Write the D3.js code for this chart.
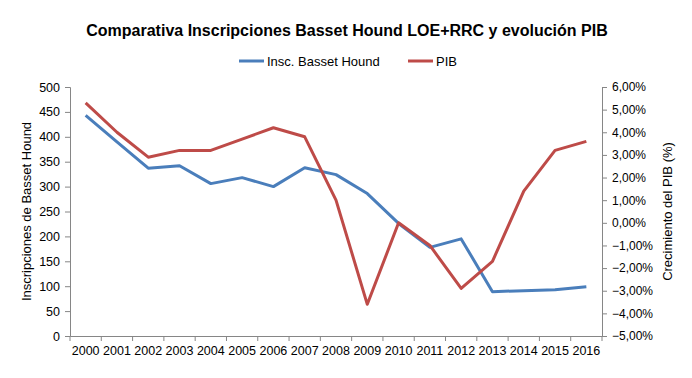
<!DOCTYPE html>
<html>
<head>
<meta charset="utf-8">
<script src="https://cdn.jsdelivr.net/npm/d3@7"></script>
<style>
  body { margin: 0; background: #fff; }
  text { font-family: "Liberation Sans", Arial, sans-serif; fill: #000; }
  .axis path, .axis line { stroke: #868686; }
</style>
</head>
<body>
<svg id="chart"></svg>
<script>
// data
const years = ['2000','2001','2002','2003','2004','2005','2006','2007','2008',
  '2009','2010','2011','2012','2013','2014','2015','2016']
const inscripciones = [443, 390, 337, 342, 306, 318, 300, 338, 324, 286, 226, 178, 195, 89, 91, 93, 99]
const pib = [5.3, 4.0, 2.9, 3.2, 3.2, 3.7, 4.2, 3.8, 1.0, -3.6, 0.0, -1.0, -2.9, -1.7, 1.4, 3.2, 3.6]
const leftTicks = [0, 50, 100, 150, 200, 250, 300, 350, 400, 450, 500]
const rightTicks = [-5, -4, -3, -2, -1, 0, 1, 2, 3, 4, 5, 6]

const width = 692
const height = 378
const margin = { left: 70, right: 90, top: 87, bottom: 42 }

const svg = d3.select('svg#chart').attr('width', width).attr('height', height)

const plotRight = width - margin.right
const plotBottom = height - margin.bottom

let xScale = d3.scaleBand().domain(years).range([margin.left, plotRight])
let yLeft = d3.scaleLinear().domain([0, 500]).range([plotBottom, margin.top])
let yRight = d3.scaleLinear().domain([-5, 6]).range([plotBottom, margin.top])

// title
svg.append('text')
  .attr('x', 347).attr('y', 36)
  .attr('text-anchor', 'middle')
  .style('font-size', '16px').style('font-weight', 'bold')
  .text('Comparativa Inscripciones Basset Hound LOE+RRC y evolución PIB')

// legend
const legendItems = [
  { label: 'Insc. Basset Hound', color: '#4A7EBB', x: 239 },
  { label: 'PIB', color: '#BE4B48', x: 408 }
]
let legend = svg.selectAll('g.legend').data(legendItems).enter().append('g').attr('class', 'legend')
legend.append('line')
  .attr('x1', d => d.x).attr('x2', d => d.x + 25)
  .attr('y1', 61).attr('y2', 61)
  .attr('stroke', d => d.color).attr('stroke-width', 3)
legend.append('text')
  .attr('x', d => d.x + 28).attr('y', 65.5)
  .style('font-size', '13px')
  .text(d => d.label)

// axes
const fmtPct = v => d3.format('.2f')(v).replace('.', ',') + '%'

let axisX = svg.append('g').attr('class', 'axis')
  .attr('transform', 'translate(0,' + plotBottom + ')')
  .call(d3.axisBottom(xScale).tickSize(0).tickPadding(10))
axisX.selectAll('text').style('font-size', '12.5px')
// tick marks between categories
axisX.selectAll('line.sep').data(years.concat(['end'])).enter().append('line')
  .attr('class', 'sep')
  .attr('x1', (d, i) => margin.left + i * xScale.step())
  .attr('x2', (d, i) => margin.left + i * xScale.step())
  .attr('y1', 0).attr('y2', 5)

let axisL = svg.append('g').attr('class', 'axis')
  .attr('transform', 'translate(' + margin.left + ',0)')
  .call(d3.axisLeft(yLeft).tickValues(leftTicks).tickSizeOuter(0).tickSize(5).tickPadding(5))
axisL.selectAll('text').style('font-size', '12.5px')

let axisR = svg.append('g').attr('class', 'axis')
  .attr('transform', 'translate(' + plotRight + ',0)')
  .call(d3.axisRight(yRight).tickValues(rightTicks).tickFormat(fmtPct).tickSizeOuter(0).tickSize(5).tickPadding(5))
axisR.selectAll('text').style('font-size', '12px')
svg.selectAll('.axis .domain').attr('stroke', '#868686')
svg.selectAll('.axis text').style('font-family', '"Liberation Sans", Arial, sans-serif').attr('fill', '#000')

// axis titles
svg.append('text')
  .attr('transform', 'translate(31,' + (margin.top + plotBottom) / 2 + ') rotate(-90)')
  .attr('text-anchor', 'middle')
  .style('font-size', '13px')
  .text('Inscripciones de Basset Hound')
svg.append('text')
  .attr('transform', 'translate(672,' + (margin.top + plotBottom) / 2 + ') rotate(-90)')
  .attr('text-anchor', 'middle')
  .style('font-size', '13px')
  .text('Crecimiento del PIB (%)')

// lines
const cx = d => xScale(d) + xScale.bandwidth() / 2
let lineLeft = d3.line().x((d, i) => cx(years[i])).y(d => yLeft(d))
let lineRight = d3.line().x((d, i) => cx(years[i])).y(d => yRight(d))

svg.append('path').datum(inscripciones)
  .attr('d', lineLeft)
  .attr('fill', 'none').attr('stroke', '#4A7EBB').attr('stroke-width', 3)
  .attr('stroke-linejoin', 'round')
svg.append('path').datum(pib)
  .attr('d', lineRight)
  .attr('fill', 'none').attr('stroke', '#BE4B48').attr('stroke-width', 3)
  .attr('stroke-linejoin', 'round')
</script>
</body>
</html>
